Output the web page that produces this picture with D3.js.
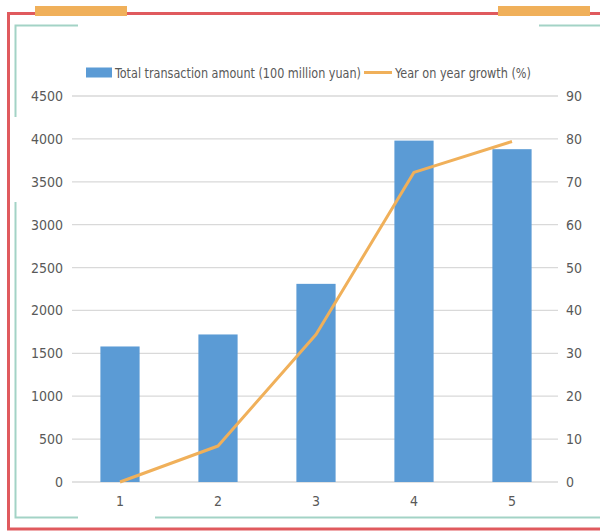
<!DOCTYPE html>
<html>
<head>
<meta charset="utf-8">
<script src="https://cdn.jsdelivr.net/npm/d3@7"></script>
<style>
  body { margin: 0; background: #fff; }
  text { font-family: "DejaVu Sans Condensed", "Liberation Sans", sans-serif; fill: #595959; }
</style>
</head>
<body>
<div id="chart"></div>
<script>
// chart data
var categories = ["1", "2", "3", "4", "5"];
var amounts = [1580, 1720, 2310, 3980, 3880];
var growth = [0, 8.4, 34.4, 72.2, 79.4];
var leftTicks = [0, 500, 1000, 1500, 2000, 2500, 3000, 3500, 4000, 4500];
var rightTicks = [0, 10, 20, 30, 40, 50, 60, 70, 80, 90];
var legendLabels = ["Total transaction amount (100 million yuan)", "Year on year growth (%)"];

var width = 600, height = 532;
var plot = {left: 72, right: 558, top: 96, bottom: 482};

var svg = d3.select("#chart").append("svg")
  .attr("width", width)
  .attr("height", height);

// decorative frame
var red = "#e05a5e", teal = "#a3d3c6", orange = "#f0b05a";
svg.append("path")
  .attr("d", "M600,13.5 H8.5 V529 H600")
  .attr("fill", "none").attr("stroke", red).attr("stroke-width", 3);
svg.append("rect").attr("x", 35).attr("y", 6).attr("width", 92).attr("height", 10).attr("fill", orange);
svg.append("rect").attr("x", 498).attr("y", 6).attr("width", 92).attr("height", 10).attr("fill", orange);
var tealPaths = [
  "M78,25.5 H15.5 V117",
  "M15.5,202 V517.5 H78",
  "M155,517.5 H600",
  "M539,25.5 H600"
];
svg.selectAll(".deco").data(tealPaths).enter().append("path")
  .attr("class", "deco")
  .attr("d", function (d) { return d; })
  .attr("fill", "none").attr("stroke", teal).attr("stroke-width", 2);

// scales
var x = d3.scaleBand()
  .domain(categories)
  .range([71, 561])
  .paddingInner(0.6)
  .paddingOuter(0.3);
var yLeft = d3.scaleLinear().domain([0, 4500]).range([plot.bottom, plot.top]);
var yRight = d3.scaleLinear().domain([0, 90]).range([plot.bottom, plot.top]);

// gridlines
svg.append("g").selectAll("line")
  .data(leftTicks)
  .enter().append("line")
  .attr("x1", plot.left).attr("x2", plot.right)
  .attr("y1", function (d) { return yLeft(d); })
  .attr("y2", function (d) { return yLeft(d); })
  .attr("stroke", "#d9d9d9").attr("stroke-width", 1.3);

// axes (labels only)
var leftAxis = svg.append("g")
  .attr("transform", "translate(" + (plot.left - 9) + ",0)")
  .call(d3.axisLeft(yLeft).tickValues(leftTicks).tickFormat(d3.format("d")).tickSize(0).tickPadding(0));
var rightAxis = svg.append("g")
  .attr("transform", "translate(" + (plot.right + 8) + ",0)")
  .call(d3.axisRight(yRight).tickValues(rightTicks).tickFormat(d3.format("d")).tickSize(0).tickPadding(0));
var bottomAxis = svg.append("g")
  .attr("transform", "translate(0," + (plot.bottom + 14) + ")")
  .call(d3.axisBottom(x).tickSize(0).tickPadding(0));
[leftAxis, rightAxis, bottomAxis].forEach(function (a) {
  a.select(".domain").remove();
  a.selectAll("text").attr("font-size", 14).attr("font-family", null).attr("fill", "#595959");
});
bottomAxis.selectAll("text").attr("dy", "0.71em");

// bars
svg.append("g").selectAll("rect")
  .data(amounts)
  .enter().append("rect")
  .attr("x", function (d, i) { return x(categories[i]); })
  .attr("y", function (d) { return yLeft(d); })
  .attr("width", x.bandwidth())
  .attr("height", function (d) { return yLeft(0) - yLeft(d); })
  .attr("fill", "#5b9bd5");

// growth line
var line = d3.line()
  .x(function (d, i) { return x(categories[i]) + x.bandwidth() / 2; })
  .y(function (d) { return yRight(d); });
svg.append("path")
  .datum(growth)
  .attr("d", line)
  .attr("fill", "none")
  .attr("stroke", orange)
  .attr("stroke-width", 3)
  .attr("stroke-linejoin", "round");

// legend (text squeezed to the narrow width of the original font)
var legend = svg.append("g");
legend.append("rect").attr("x", 86).attr("y", 67.5).attr("width", 26).attr("height", 10).attr("fill", "#5b9bd5");
legend.append("text").attr("x", 115).attr("y", 78).attr("font-size", 14)
  .attr("textLength", 246).attr("lengthAdjust", "spacingAndGlyphs")
  .text(legendLabels[0]);
legend.append("line").attr("x1", 364).attr("x2", 392).attr("y1", 72.5).attr("y2", 72.5)
  .attr("stroke", orange).attr("stroke-width", 3);
legend.append("text").attr("x", 395).attr("y", 78).attr("font-size", 14)
  .attr("textLength", 136).attr("lengthAdjust", "spacingAndGlyphs")
  .text(legendLabels[1]);
</script>
</body>
</html>
